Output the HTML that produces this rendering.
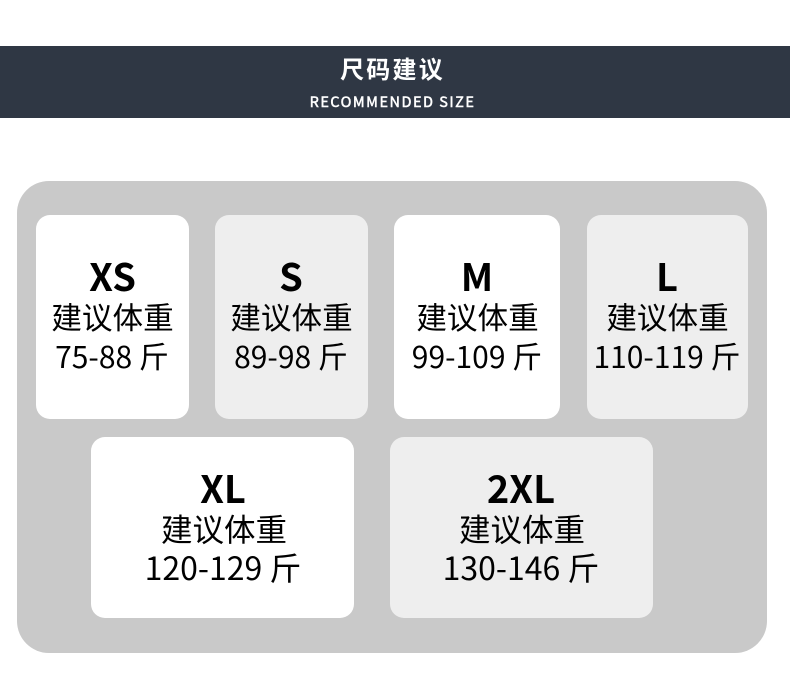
<!DOCTYPE html>
<html><head><meta charset="utf-8"><style>
html,body{margin:0;padding:0;background:#fff}
body{width:790px;height:695px;position:relative;overflow:hidden;font-family:"Noto Sans CJK SC","Liberation Sans",sans-serif;color:#000}
div{position:absolute}
.c{border-radius:14px}
.w{background:#fff}.g{background:#eee}
.t{white-space:nowrap;text-align:center;transform:translateX(-50%);line-height:40px;height:40px}
.h{font-weight:700;font-size:38px}
.m{font-size:30.6px}
.n{font-size:30px}
.m2{font-size:31.5px}
.n2{font-size:32px}
</style></head><body>
<div style="left:0;top:46px;width:790px;height:72px;background:#2f3744"></div>
<div class="t" style="left:392.5px;top:48px;color:#fff;font-size:24px;font-weight:700;letter-spacing:2.2px">尺码建议</div>
<div class="t" style="left:392.5px;top:82px;color:#fff;font-size:14.5px;-webkit-text-stroke:.5px #fff;letter-spacing:1.5px">RECOMMENDED SIZE</div>
<div style="left:17px;top:181px;width:750px;height:472px;border-radius:32px;background:#c9c9c9"></div>
<div class="c w" style="left:36px;top:215px;width:153px;height:204px"></div>
<div class="c g" style="left:215px;top:215px;width:153px;height:204px"></div>
<div class="c w" style="left:394px;top:215px;width:166px;height:204px"></div>
<div class="c g" style="left:587px;top:215px;width:161px;height:204px"></div>
<div class="c w" style="left:91px;top:437px;width:263px;height:181px"></div>
<div class="c g" style="left:390px;top:437px;width:263px;height:181px"></div>

<div class="t h" style="left:112.5px;top:255px">XS</div>
<div class="t m" style="left:112.5px;top:296px">建议体重</div>
<div class="t n" style="left:112px;top:335px">75-88 斤</div>

<div class="t h" style="left:291px;top:255px">S</div>
<div class="t m" style="left:291.5px;top:296px">建议体重</div>
<div class="t n" style="left:291px;top:335px">89-98 斤</div>

<div class="t h" style="left:477px;top:255px">M</div>
<div class="t m" style="left:477.5px;top:296px">建议体重</div>
<div class="t n" style="left:477px;top:335px">99-109 斤</div>

<div class="t h" style="left:667px;top:255px">L</div>
<div class="t m" style="left:667.5px;top:296px">建议体重</div>
<div class="t n" style="left:667px;top:335px">110-119 斤</div>

<div class="t h" style="left:223px;top:467px">XL</div>
<div class="t m2" style="left:224px;top:508px">建议体重</div>
<div class="t n2" style="left:223px;top:547px">120-129 斤</div>

<div class="t h" style="left:521px;top:467px">2XL</div>
<div class="t m2" style="left:522px;top:508px">建议体重</div>
<div class="t n2" style="left:521px;top:547px">130-146 斤</div>
</body></html>
